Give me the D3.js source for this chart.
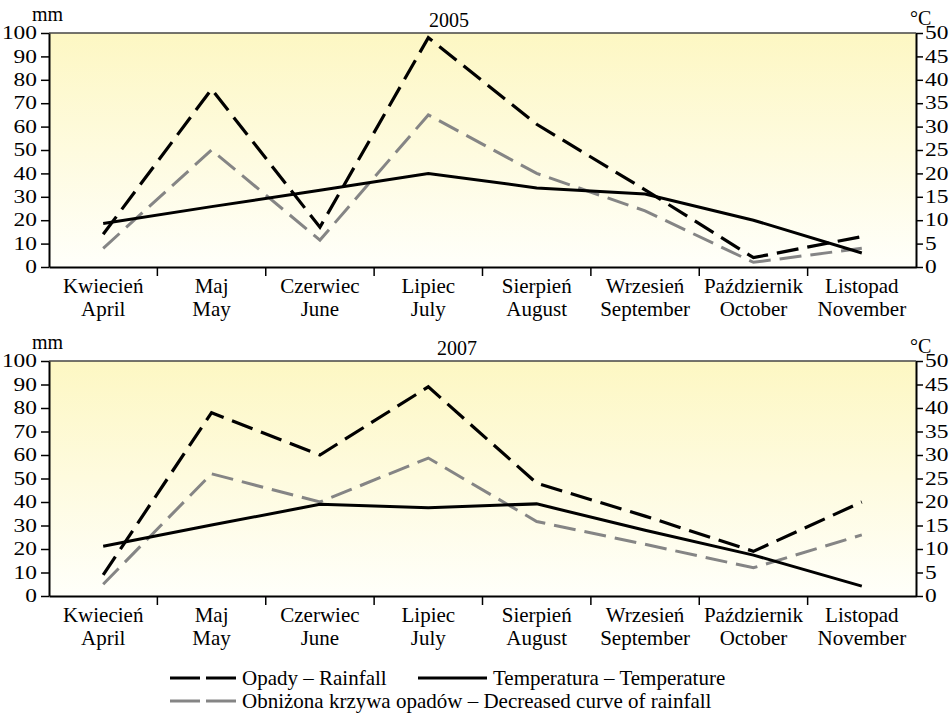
<!DOCTYPE html>
<html>
<head>
<meta charset="utf-8">
<script src="https://cdn.jsdelivr.net/npm/d3@7"></script>
<style>
  body { margin: 0; background: #fff; }
  text { font-family: "Liberation Serif", "Times New Roman", serif; fill: #000; }
</style>
</head>
<body>
<div id="chart"></div>
<script>
// month labels (Polish / English)
const monthsPl = ["Kwiecień", "Maj", "Czerwiec", "Lipiec", "Sierpień", "Wrzesień", "Październik", "Listopad"];
const monthsEn = ["April", "May", "June", "July", "August", "September", "October", "November"];

// 2005 : rainfall (mm), decreased rainfall curve (mm), temperature (°C)
const rain2005    = [14, 76, 17, 98, 61, 33, 4, 13];
const reduced2005 = [8, 50, 11.5, 65, 40, 24, 2, 8];
const temp2005    = [9.3, 12.9, 16.4, 20, 16.9, 15.6, 10, 3];

// 2007
const rain2007    = [9, 78, 60, 89, 48, 34, 19, 40];
const reduced2007 = [5, 52, 40, 58.7, 31.7, 22, 12, 26];
const temp2007    = [10.6, 15.1, 19.5, 18.8, 19.6, 14, 8.7, 2.1];

const rainTicks = d3.range(0, 101, 10);
const tempTicks = d3.range(0, 51, 5);

let width = 952,
    height = 716,
    left = 49,
    right = 916,
    stretch = 1.3; // tick digits are drawn wide in the original

const svg = d3.select("#chart")
  .append("svg")
  .attr("width", width)
  .attr("height", height);

// pale yellow fading to white
let grad = svg.append("defs").append("linearGradient")
  .attr("id", "bg")
  .attr("x1", 0).attr("y1", 0).attr("x2", 0).attr("y2", 1);
grad.append("stop").attr("offset", "0%").attr("stop-color", "#fdf7c3");
grad.append("stop").attr("offset", "100%").attr("stop-color", "#fffffa");

const x = d3.scaleBand().domain(monthsEn).range([left, right]).padding(0);
const cx = i => x(monthsEn[i]) + x.bandwidth() / 2;

function panel(top, bottom, year, titleX, rain, reduced, temp) {
  let yRain = d3.scaleLinear().domain([0, 100]).range([bottom, top]),
      yTemp = d3.scaleLinear().domain([0, 50]).range([bottom, top]);

  let g = svg.append("g");

  g.append("rect")
    .attr("x", left).attr("y", top)
    .attr("width", right - left).attr("height", bottom - top)
    .attr("fill", "url(#bg)");

  // frame top
  g.append("line")
    .attr("x1", left).attr("x2", right)
    .attr("y1", top).attr("y2", top)
    .attr("stroke", "#444").attr("stroke-width", 1.5);

  // x axis with labels centred in bands
  let xAxis = g.append("g")
    .attr("transform", `translate(0,${bottom})`)
    .call(d3.axisBottom(x).tickSize(0).tickSizeOuter(0));
  xAxis.select(".domain").attr("stroke-width", 2);
  xAxis.selectAll(".tick text").each(function (d, i) {
    let t = d3.select(this).text(null).attr("y", null).attr("dy", null)
      .style("font-size", "21px");
    t.append("tspan").attr("x", 0).attr("y", 26).text(monthsPl[i]);
    t.append("tspan").attr("x", 0).attr("y", 49).text(d);
  });
  xAxis.attr("font-family", null).attr("font-size", null);

  // band boundary ticks
  g.append("g")
    .selectAll("line")
    .data(monthsEn.slice(1))
    .join("line")
      .attr("x1", d => x(d)).attr("x2", d => x(d))
      .attr("y1", bottom).attr("y2", bottom + 9)
      .attr("stroke", "#000").attr("stroke-width", 1.5);

  // left axis, mm
  let yl = g.append("g")
    .attr("transform", `translate(${left},0)`)
    .call(d3.axisLeft(yRain).tickValues(rainTicks).tickSize(8).tickSizeOuter(0));
  yl.select(".domain").attr("stroke-width", 2);
  yl.selectAll(".tick line").attr("stroke-width", 1.5);
  yl.selectAll(".tick text")
    .style("font-size", "18px")
    .attr("x", -12 / stretch)
    .attr("transform", `scale(${stretch},1)`);
  yl.attr("font-family", null).attr("font-size", null);

  // right axis, °C
  let yr = g.append("g")
    .attr("transform", `translate(${right},0)`)
    .call(d3.axisRight(yTemp).tickValues(tempTicks).tickSize(7).tickSizeOuter(0));
  yr.select(".domain").attr("stroke-width", 2);
  yr.selectAll(".tick line").attr("stroke-width", 1.5);
  yr.selectAll(".tick text")
    .style("font-size", "18px")
    .attr("x", 9 / stretch)
    .attr("transform", `scale(${stretch},1)`);
  yr.attr("font-family", null).attr("font-size", null);

  // units and title
  g.append("text").attr("x", 32).attr("y", top - 12).style("font-size", "20px").text("mm");
  g.append("text").attr("x", 910).attr("y", top - 8).style("font-size", "20px").text("°C");
  g.append("text").attr("x", titleX).attr("y", top - 6)
    .attr("text-anchor", "middle").style("font-size", "20px").text(year);

  let rainLine = d3.line().x((d, i) => cx(i)).y(d => yRain(d));
  let tempLine = d3.line().x((d, i) => cx(i)).y(d => yTemp(d));

  g.append("path")
    .datum(reduced)
    .attr("d", rainLine)
    .attr("fill", "none")
    .attr("stroke", "#858585")
    .attr("stroke-width", 3)
    .attr("stroke-dasharray", "22,9");

  g.append("path")
    .datum(temp)
    .attr("d", tempLine)
    .attr("fill", "none")
    .attr("stroke", "#000")
    .attr("stroke-width", 3);

  g.append("path")
    .datum(rain)
    .attr("d", rainLine)
    .attr("fill", "none")
    .attr("stroke", "#000")
    .attr("stroke-width", 3.2)
    .attr("stroke-dasharray", "22,9");
}

panel(33, 267, "2005", 449, rain2005, reduced2005, temp2005);
panel(361, 596, "2007", 457, rain2007, reduced2007, temp2007);

// legend
const legendItems = [
  {label: "Opady – Rainfall", x: 170, w: 66, row: 0, color: "#000", dash: "30,6"},
  {label: "Temperatura – Temperature", x: 418, w: 69, row: 0, color: "#000", dash: null},
  {label: "Obniżona krzywa opadów – Decreased curve of rainfall", x: 170, w: 66, row: 1, color: "#858585", dash: "30,6"}
];

let legend = svg.append("g")
  .selectAll("g")
  .data(legendItems)
  .join("g")
    .attr("transform", d => `translate(${d.x},${685 + d.row * 23})`);

legend.append("line")
  .attr("x1", 0).attr("x2", d => d.w)
  .attr("y1", -7).attr("y2", -7)
  .attr("stroke", d => d.color)
  .attr("stroke-width", 3)
  .attr("stroke-dasharray", d => d.dash);

legend.append("text")
  .attr("x", d => d.w + 6)
  .attr("y", 0)
  .style("font-size", "21px")
  .text(d => d.label);
</script>
</body>
</html>
